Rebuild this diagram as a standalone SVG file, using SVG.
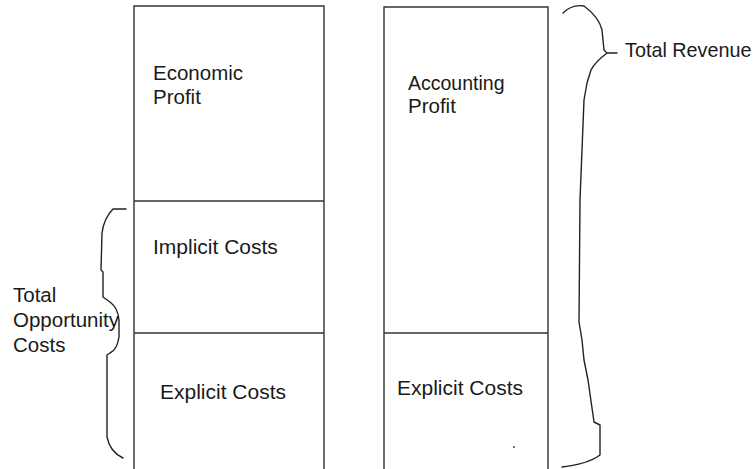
<svg xmlns="http://www.w3.org/2000/svg" width="756" height="469" viewBox="0 0 756 469">
  <style>
    .box { fill: none; stroke: #333; stroke-width: 1.4; }
    .brace { fill: none; stroke: #222; stroke-width: 1.4; stroke-linejoin: round; stroke-linecap: round; }
    .lbl { font-family: "Liberation Sans", Arial, sans-serif; font-size: 20.5px; fill: #1a1a1a; }
    .wide { font-size: 21px; }
  </style>
  <rect width="756" height="469" fill="#fff"/>

  <!-- Economic view column -->
  <g id="economic-column">
    <path class="box" d="M134,469 L134,6 L324,6 L324,469"/>
    <g id="economic-profit">
      <line class="box" x1="134" y1="201" x2="324" y2="201"/>
      <text class="lbl" x="153" y="80">Economic</text>
      <text class="lbl" x="153" y="104">Profit</text>
    </g>
    <g id="implicit-costs">
      <line class="box" x1="134" y1="333" x2="324" y2="333"/>
      <text class="lbl wide" x="153" y="254">Implicit Costs</text>
    </g>
    <g id="explicit-costs-left">
      <text class="lbl wide" x="160" y="399">Explicit Costs</text>
    </g>
  </g>

  <!-- Accounting view column -->
  <g id="accounting-column">
    <path class="box" d="M384,469 L384,7 L548,7 L548,469"/>
    <g id="accounting-profit">
      <text class="lbl" x="408" y="90" style="font-size:19.5px">Accounting</text>
      <text class="lbl" x="408" y="113">Profit</text>
    </g>
    <g id="explicit-costs-right">
      <line class="box" x1="384" y1="333" x2="548" y2="333"/>
      <text class="lbl wide" x="397" y="395">Explicit Costs</text>
    </g>
  </g>

  <!-- Braces -->
  <g id="connectors">
    <path class="brace" d="M126,209 L113,209 Q104,218 102,233 L101,270 L103,272 L103,297 L110,302 Q118,308 119,320 L119,337 Q117,350 110,353 L107,355 L107,437 Q110,452 123,458"/>
    <path class="brace" d="M563,13 Q572,4 584,6 Q599,17 602,30 L604,50 L607,53 L617,53 M607,53 Q595,62 591,70 L587,83 L584,100 L580,200 L579,322 L582,340 L584,360 L588,380 L594,422 L600,425 L600,455 Q588,464 562,467"/>
  </g>

  <g id="total-opportunity-costs">
    <text class="lbl" x="13" y="302">Total</text>
    <text class="lbl" x="13" y="327">Opportunity</text>
    <text class="lbl" x="13" y="352">Costs</text>
  </g>
  <g id="total-revenue">
    <text class="lbl" x="625" y="57" style="font-size:19.8px">Total Revenue</text>
  </g>

  <rect x="513" y="446" width="2" height="2" fill="#777"/>
</svg>
